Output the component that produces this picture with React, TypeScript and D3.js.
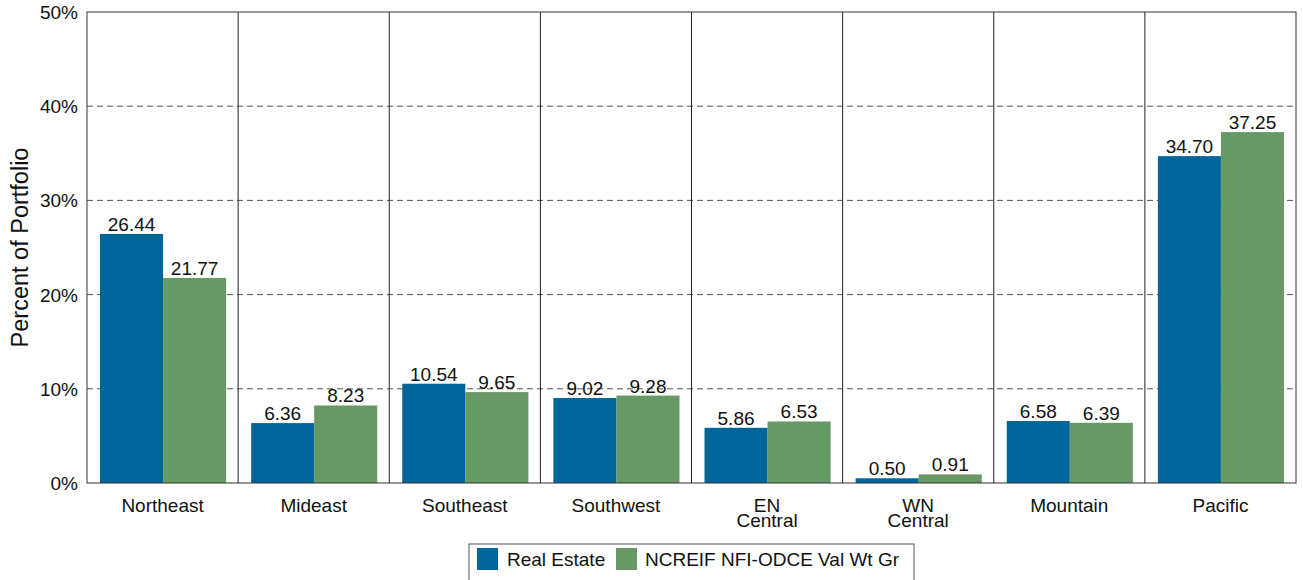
import * as d3 from "d3"

const CATEGORIES = ["Northeast", "Mideast", "Southeast", "Southwest", "EN\nCentral", "WN\nCentral", "Mountain", "Pacific"]
const SERIES = ["Real Estate", "NCREIF NFI-ODCE Val Wt Gr"]
const REAL_ESTATE = [26.44, 6.36, 10.54, 9.02, 5.86, 0.5, 6.58, 34.7]
const NCREIF = [21.77, 8.23, 9.65, 9.28, 6.53, 0.91, 6.39, 37.25]
const Y_TICKS = [0, 10, 20, 30, 40, 50]
const COLORS = ["#006699", "#669966"]

const W = 1303
const H = 580
const M = { left: 87, right: 7, top: 12, bottom: 97 }

export default function App() {
  const x = d3.scaleBand<string>().domain(CATEGORIES).range([M.left, W - M.right])
  const inner = d3.scaleBand<string>().domain(SERIES).range([13, x.bandwidth() - 12])
  const y = d3.scaleLinear().domain([0, 50]).range([H - M.bottom, M.top])
  const values = [REAL_ESTATE, NCREIF]
  const font = "'Liberation Sans', Arial, sans-serif"

  return (
    <svg width={W} height={H} style={{ position: "absolute", left: 0, top: 0 }} fontFamily={font}>
      {Y_TICKS.filter((t) => t > 0 && t < 50).map((t) => (
        <line key={t} x1={M.left} x2={W - M.right} y1={y(t)} y2={y(t)} stroke="#555" strokeDasharray="6,4" />
      ))}
      {CATEGORIES.slice(1).map((c) => (
        <line key={c} x1={x(c)!} x2={x(c)!} y1={M.top} y2={y(0)} stroke="#222" />
      ))}
      {CATEGORIES.map((c, i) => (
        <g key={c} transform={`translate(${x(c)},0)`}>
          {SERIES.map((s, j) => (
            <g key={s}>
              <rect x={inner(s)!} width={inner.bandwidth()} y={y(values[j][i])} height={y(0) - y(values[j][i])} fill={COLORS[j]} />
              <text x={inner(s)! + inner.bandwidth() / 2} y={y(values[j][i]) - 3} textAnchor="middle" fontSize={19} fill="#111">
                {values[j][i].toFixed(2)}
              </text>
            </g>
          ))}
          {c.split("\n").map((line, k) => (
            <text key={k} x={x.bandwidth() / 2} y={y(0) + 29 + k * 15} textAnchor="middle" fontSize={19} fill="#111">
              {line}
            </text>
          ))}
        </g>
      ))}
      <rect x={M.left} y={M.top} width={W - M.right - M.left} height={y(0) - M.top} fill="none" stroke="#333" />
      {Y_TICKS.map((t) => (
        <text key={t} x={M.left - 9} y={y(t) + 7} textAnchor="end" fontSize={19} fill="#111">
          {t}%
        </text>
      ))}
      <text transform={`translate(28,${(M.top + y(0)) / 2}) rotate(-90)`} textAnchor="middle" fontSize={23.5} fill="#111">
        Percent of Portfolio
      </text>
      <g transform="translate(469,544)">
        <rect x={0} y={0} width={445} height={40} fill="white" stroke="#555" />
        <rect x={8} y={4} width={21} height={22} fill={COLORS[0]} />
        <text x={38} y={22} fontSize={19} fill="#111">{SERIES[0]}</text>
        <rect x={147} y={4} width={21} height={22} fill={COLORS[1]} />
        <text x={176} y={22} fontSize={19} fill="#111">{SERIES[1]}</text>
      </g>
    </svg>
  )
}
